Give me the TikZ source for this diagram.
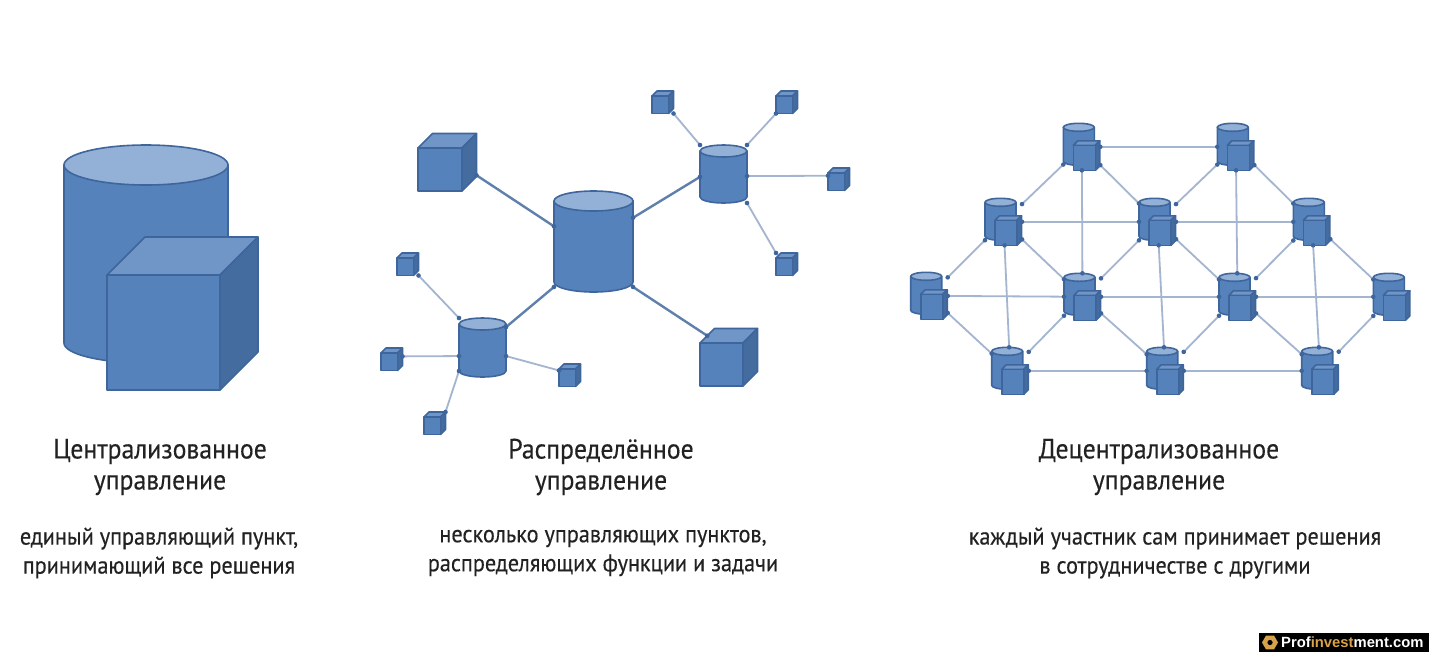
\documentclass[tikz,border=0pt]{standalone}
\usepackage{fontspec}
\setmainfont{PT Sans}[FakeStretch=0.92,FakeBold=0.3]
\newfontfamily\markfont{Liberation Sans}
\usetikzlibrary{shapes.geometric}
\definecolor{bodyx}{HTML}{5582BB}
\definecolor{lidx}{HTML}{93B0D6}
\definecolor{edgex}{HTML}{3F669C}
\definecolor{topx}{HTML}{7096C8}
\definecolor{sidex}{HTML}{446C9F}
\definecolor{linkx}{HTML}{5F80AC}
\definecolor{wirex}{HTML}{A3B5CF}
\definecolor{textx}{HTML}{222222}
\definecolor{goldx}{HTML}{D8A24A}
\tikzset{
  solid face/.style={draw=edgex,line width=1.6pt,line join=round},
  anchorbox/.style={inner sep=0,outer sep=0},
  link/.style={linkx,line width=2.4pt},
  wire/.style={wirex,line width=1.8pt},
  head/.style={font=\fontsize{28}{31}\selectfont,text=textx,align=center,inner sep=0},
  note/.style={font=\fontsize{24.2}{29}\selectfont,text=textx,align=center,inner sep=0}
}
% name, left, top, width, height, lid radius
\newcommand{\drum}[6]{
  \fill[bodyx,solid face] (#2,#3+#6) -- (#2,#3+#5-#6) arc[start angle=180,end angle=0,x radius=#4/2,y radius=#6] -- (#2+#4,#3+#6) -- cycle;
  \fill[lidx,solid face] (#2+#4/2,#3+#6) ellipse[x radius=#4/2,y radius=#6];
  \node[anchorbox,minimum width={(#4)*1pt},minimum height={(#5)*1pt}] (#1) at ({#2+#4/2},{#3+#5/2}) {};
}
% name, left, top of the front face, width, height, depth
\newcommand{\cubex}[6]{
  \fill[topx,solid face] (#2,#3) -- (#2+#6,#3-#6) -- (#2+#4+#6,#3-#6) -- (#2+#4,#3) -- cycle;
  \fill[sidex,solid face] (#2+#4,#3) -- (#2+#4+#6,#3-#6) -- (#2+#4+#6,#3+#5-#6) -- (#2+#4,#3+#5) -- cycle;
  \fill[bodyx,solid face] (#2,#3) rectangle (#2+#4,#3+#5);
  \node[anchorbox,minimum width={(#4+#6)*1pt},minimum height={(#5+#6)*1pt}] (#1) at ({#2+(#4+#6)/2},{#3+(#5-#6)/2}) {};
  \coordinate (#1-s) at ({#2+#6/2},{#3-#6/2});
}
% style, from, to
\newcommand{\joinx}[3]{
  \draw[#1] (#2) -- (#3) coordinate[pos=0] (endA) coordinate[pos=1] (endB);
  \fill[edgex] (endA) circle[radius=2.3] (endB) circle[radius=2.3];
}
\begin{document}
\begin{tikzpicture}[x=1pt,y=-1pt]
\useasboundingbox (0,0) rectangle (1439,662);
\fill[white] (0,0) rectangle (1439,662);
% first group
\drum{bigdrum}{64}{145}{164}{218}{20}
\cubex{bigcube}{107}{275}{113}{115}{38}
\node[head] (headA) at (160,467) {Централизованное\\управление};
\node[note] (noteA) at (159,553) {единый управляющий пункт,\\принимающий все решения};
% second group
\drum{hub}{554}{191}{79}{101}{10}
\drum{hubTR}{700}{145}{47}{58}{6}
\drum{hubBL}{459}{318}{47}{59}{6}
\cubex{cubeTL}{418}{148}{44}{43}{14.5}
\cubex{cubeBR}{700}{343}{43}{43}{14.5}
\foreach \n/\x/\y in {s1/652/96,s2/776/96,s3/828/173,s4/776/258,s5/397/258,s6/381/353,s7/559/369,s8/424/417}{
  \cubex{\n}{\x}{\y}{16.5}{17.5}{5}
}
\joinx{link}{cubeTL.336}{hub.159}
\joinx{link}{hub.31}{hubTR.187}
\joinx{link}{hub.229}{hubBL.41}
\joinx{link}{hub.311}{cubeBR-s}
\joinx{wire}{hubTR.north west}{s1.south east}
\joinx{wire}{hubTR.north east}{s2.south west}
\joinx{wire}{hubTR.355}{s3.162}
\joinx{wire}{hubTR.south east}{s4.north west}
\joinx{wire}{hubBL.north west}{s5.south east}
\joinx{wire}{hubBL.200}{s6.15}
\joinx{wire}{hubBL.340}{s7.156}
\joinx{wire}{hubBL.225}{s8.north east}
\node[head] (headB) at (601,467) {Распределённое\\управление};
\node[note] (noteB) at (603,553) {несколько управляющих пунктов,\\распределяющих функции и задачи};
% third group
\foreach \n/\x/\y in {n1/1063.3/123.3,n2/1217.3/123.3,n3/985/198.3,n4/1139/198.3,n5/1293.3/198.3,n6/910.7/272.3,n7/1064/273.3,n8/1219/273.3,n9/1373.3/273.3,n10/991.7/347.3,n11/1146.7/347.3,n12/1301.7/347.3}{
  \drum{\n d}{\x}{\y}{31}{42}{4}
  \cubex{\n c}{\x+10}{\y+22}{22}{25}{4.5}
  \node[anchorbox,minimum width=37pt,minimum height=47pt] (\n) at ({\x+18.5},{\y+23.5}) {};
}
\foreach \a/\b in {n1/n2,n1/n3,n1/n4,n1/n7,n2/n4,n2/n5,n2/n8,n3/n4,n4/n5,n3/n6,n3/n7,n3/n10,n4/n7,n4/n8,n4/n11,n5/n8,n5/n9,n5/n12,n6/n7,n7/n8,n8/n9,n6/n10,n7/n10,n7/n11,n8/n11,n8/n12,n9/n12,n10/n11,n11/n12}{
  \joinx{wire}{\a}{\b}
}
\node[head] (headC) at (1159,467) {Децентрализованное\\управление};
\node[note] (noteC) at (1175,553) {каждый участник сам принимает решения\\в сотрудничестве с другими};
% site mark
\fill[black] (1259,633) rectangle (1429,652);
\node[regular polygon,regular polygon sides=6,fill=goldx,minimum size=16pt,inner sep=0] (markicon) at (1270,642.5) {};
\fill[black] (markicon.center) circle[radius=2.6];
\node[anchor=west,inner sep=0,font=\markfont\bfseries\fontsize{14.8}{16}\selectfont,text=white] (marktext) at (1281,642.5) {Prof\textcolor{goldx}{invest}ment.com};
\end{tikzpicture}
\end{document}
